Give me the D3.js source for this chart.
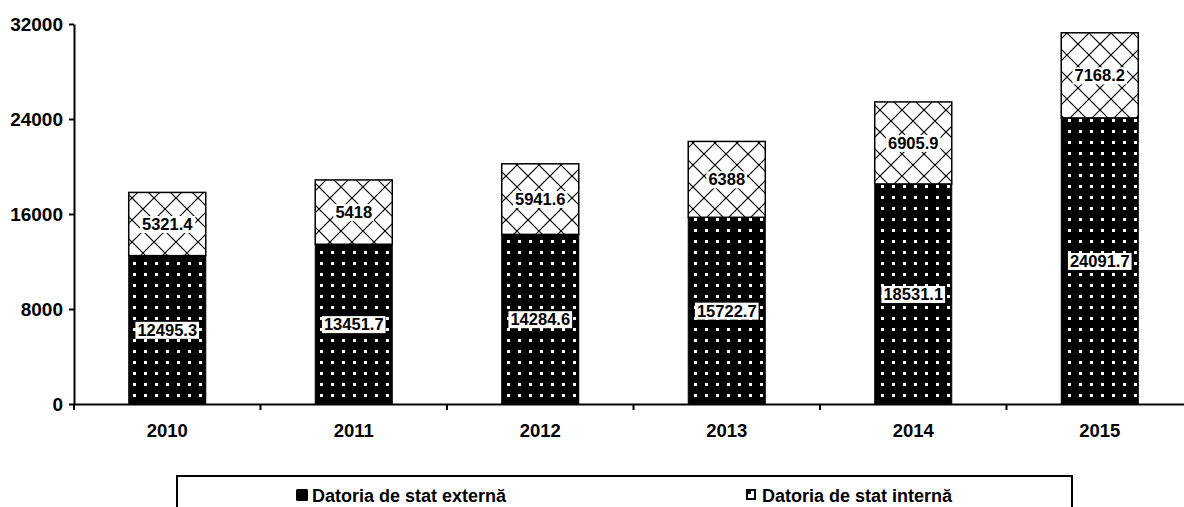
<!DOCTYPE html>
<html>
<head>
<meta charset="utf-8">
<script src="https://cdn.jsdelivr.net/npm/d3@7"></script>
<style>
  html, body { margin: 0; padding: 0; background: #fff; }
  svg { display: block; font-family: "Liberation Sans", Arial, sans-serif; font-weight: bold; }
</style>
</head>
<body>
<svg id="chart" width="1184" height="507"></svg>
<script>
const years = ["2010", "2011", "2012", "2013", "2014", "2015"];
const externa = [12495.3, 13451.7, 14284.6, 15722.7, 18531.1, 24091.7];
const interna = [5321.4, 5418, 5941.6, 6388, 6905.9, 7168.2];
const externaLabels = ["12495.3", "13451.7", "14284.6", "15722.7", "18531.1", "24091.7"];
const internaLabels = ["5321.4", "5418", "5941.6", "6388", "6905.9", "7168.2"];
const yTicks = [0, 8000, 16000, 24000, 32000];
const seriesNames = ["Datoria de stat externă", "Datoria de stat internă"];

const svg = d3.select("#chart");
const left = 74, zeroY = 404, topY = 24, step = 186.5;

const defs = svg.append("defs");
// dotted pattern: black with white dots
const pd = defs.append("pattern").attr("id", "dots").attr("patternUnits", "userSpaceOnUse")
  .attr("width", 11).attr("height", 11);
pd.append("rect").attr("width", 11).attr("height", 11).attr("fill", "#000");
pd.append("rect").attr("x", 1).attr("y", 9).attr("width", 3).attr("height", 2).attr("fill", "#fff");
pd.append("rect").attr("x", 1).attr("y", 0).attr("width", 3).attr("height", 1).attr("fill", "#fff");
// lattice pattern: white with black diagonal lines
const pl = defs.append("pattern").attr("id", "lattice").attr("patternUnits", "userSpaceOnUse")
  .attr("width", 22).attr("height", 22);
pl.append("rect").attr("width", 22).attr("height", 22).attr("fill", "#fff");
pl.append("path").attr("d", "M0,0 L22,22 M22,0 L0,22 M-2,20 L2,24 M20,-2 L24,2 M-2,2 L2,-2 M20,24 L24,20")
  .attr("stroke", "#000").attr("stroke-width", 1.2).attr("fill", "none");

const x = d3.scaleBand().domain(years).range([left, left + step * years.length])
  .paddingInner(0.587).paddingOuter(0.2935);
const y = d3.scaleLinear().domain([0, 32000]).range([zeroY, topY]);

// bars
const g = svg.append("g");
years.forEach((yr, i) => {
  const bx = x(yr), bw = x.bandwidth();
  g.append("rect").attr("x", bx).attr("y", y(externa[i])).attr("width", bw)
    .attr("height", y(0) - y(externa[i])).attr("fill", "url(#dots)")
    .attr("stroke", "#000").attr("stroke-width", 1);
  g.append("rect").attr("x", bx).attr("y", y(externa[i] + interna[i])).attr("width", bw)
    .attr("height", y(externa[i]) - y(externa[i] + interna[i])).attr("fill", "url(#lattice)")
    .attr("stroke", "#000").attr("stroke-width", 1.5);
});

// labels with white background
function label(cx, cy, txt) {
  const t = svg.append("text").attr("x", cx).attr("y", cy).attr("text-anchor", "middle")
    .attr("dominant-baseline", "central").attr("font-size", 16.5).attr("fill", "#000").text(txt);
  const bb = t.node().getBBox();
  svg.insert("rect", () => t.node()).attr("x", bb.x - 2).attr("y", bb.y + 1)
    .attr("width", bb.width + 4).attr("height", bb.height - 1).attr("fill", "#fff");
}
years.forEach((yr, i) => {
  const cx = x(yr) + x.bandwidth() / 2;
  label(cx, (y(0) + y(externa[i])) / 2, externaLabels[i]);
  label(cx, (y(externa[i]) + y(externa[i] + interna[i])) / 2, internaLabels[i]);
});

// y axis
const ya = svg.append("g").attr("transform", `translate(${left},0)`)
  .call(d3.axisLeft(y).tickValues(yTicks).tickSize(5).tickSizeOuter(0).tickPadding(6).tickFormat(d3.format("d")));
ya.selectAll("text").attr("font-size", 19).attr("font-family", "Liberation Sans, Arial").attr("font-weight", "bold").attr("fill", "#000");
ya.selectAll("line").attr("stroke", "#000").attr("stroke-width", 2);
ya.select(".domain").attr("stroke", "#000").attr("stroke-width", 2);

// x axis
const xa = svg.append("g").attr("transform", `translate(0,${zeroY})`)
  .call(d3.axisBottom(x).tickSize(0).tickPadding(20));
xa.selectAll("text").attr("font-size", 18.5).attr("font-family", "Liberation Sans, Arial").attr("font-weight", "bold").attr("fill", "#000");
xa.select(".domain").attr("stroke", "#000").attr("stroke-width", 2);
const bounds = d3.range(years.length + 1).map(k => left + k * step);
xa.selectAll(".bt").data(bounds).enter().append("line").attr("class", "bt")
  .attr("x1", d => d).attr("x2", d => d).attr("y1", 0).attr("y2", 6)
  .attr("stroke", "#000").attr("stroke-width", 2);

// legend
svg.append("rect").attr("x", 177).attr("y", 476).attr("width", 895).attr("height", 60)
  .attr("fill", "#fff").attr("stroke", "#000").attr("stroke-width", 2);
const leg = [
  { mx: 296, tx: 312, name: seriesNames[0], fill: "#000" },
  { mx: 746, tx: 762, name: seriesNames[1], fill: "url(#lattice)" }
];
leg.forEach((d, i) => {
  if (i === 0) {
    svg.append("rect").attr("x", d.mx).attr("y", 489).attr("width", 12).attr("height", 12).attr("rx", 1.5).attr("fill", "#000");
  } else {
    svg.append("rect").attr("x", d.mx + 1).attr("y", 490).attr("width", 8).attr("height", 9)
      .attr("fill", "#fff").attr("stroke", "#000").attr("stroke-width", 2);
    svg.append("rect").attr("x", d.mx + 2).attr("y", 491).attr("width", 3).attr("height", 3).attr("fill", "#000");
  }
  svg.append("text").attr("x", d.tx).attr("y", 496).attr("dominant-baseline", "central")
    .attr("font-size", 18).attr("fill", "#000").text(d.name);
});
</script>
</body>
</html>
